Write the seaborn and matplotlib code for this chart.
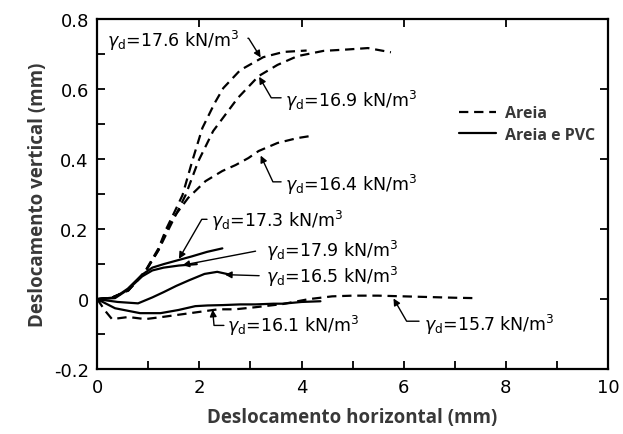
import matplotlib
matplotlib.use("Agg")
import matplotlib.pyplot as plt
from matplotlib.lines import Line2D
from matplotlib.ticker import MultipleLocator, FixedLocator, FuncFormatter
import seaborn as sns
import pandas as pd

# Sand only (dashed)
x_176 = [0, 0.3, 0.61, 0.94, 1.2, 1.35, 1.5, 1.67, 1.86, 2.06, 2.3, 2.47, 2.8, 3.25, 3.65, 4.1]
y_176 = [0, 0.005, 0.025, 0.08, 0.145, 0.2, 0.245, 0.297, 0.394, 0.489, 0.56, 0.603, 0.654, 0.691, 0.706, 0.71]

x_169 = [0, 0.3, 0.61, 0.94, 1.2, 1.4, 1.73, 1.98, 2.27, 2.75, 3.16, 3.53, 3.92, 4.43, 4.9, 5.3, 5.75]
y_169 = [0, 0.005, 0.025, 0.078, 0.14, 0.2, 0.297, 0.394, 0.48, 0.574, 0.637, 0.669, 0.694, 0.709, 0.713, 0.717, 0.705]

x_164 = [0, 0.3, 0.61, 0.94, 1.2, 1.35, 1.53, 1.78, 2.12, 2.45, 2.71, 2.96, 3.16, 3.53, 3.92, 4.18]
y_164 = [0, 0.005, 0.025, 0.078, 0.14, 0.195, 0.24, 0.289, 0.337, 0.366, 0.383, 0.403, 0.423, 0.446, 0.46, 0.466]

x_157 = [0, 0.16, 0.29, 0.61, 0.94, 1.27, 1.67, 2.12, 2.37, 2.7, 3.1, 3.63, 4.14, 4.6, 5.0, 5.5, 6.0, 6.5, 7.0, 7.37]
y_157 = [0, -0.034, -0.057, -0.051, -0.057, -0.051, -0.043, -0.034, -0.029, -0.029, -0.023, -0.014, 0.0, 0.008, 0.01, 0.01, 0.008, 0.006, 0.004, 0.003]

# Sand and PVC (solid)
x_173 = [0, 0.35, 0.6, 0.88, 1.08, 1.3, 1.55, 1.85, 2.15, 2.45]
y_173 = [0, 0.005, 0.03, 0.07, 0.09, 0.1, 0.11, 0.122, 0.135, 0.145]

x_179 = [0, 0.35, 0.6, 0.88, 1.08, 1.3, 1.6, 1.95]
y_179 = [0, 0.003, 0.027, 0.065, 0.082, 0.09, 0.096, 0.1]

x_165 = [0, 0.4, 0.8, 1.08, 1.3, 1.55, 1.8, 2.1, 2.35, 2.6]
y_165 = [0, -0.008, -0.012, 0.005, 0.02, 0.038, 0.054, 0.072, 0.078, 0.07]

x_161 = [0, 0.35, 0.84, 1.24, 1.59, 1.92, 2.16, 2.45, 2.8, 3.1, 3.45, 3.63, 4.0, 4.37]
y_161 = [0, -0.026, -0.04, -0.04, -0.031, -0.02, -0.018, -0.017, -0.015, -0.015, -0.013, -0.013, -0.008, -0.006]

x_ticks = [0, 2, 4, 6, 8, 10]
y_ticks = [-0.2, 0, 0.2, 0.4, 0.6, 0.8]

series = [
    ("17.6", x_176, y_176, "Areia"),
    ("16.9", x_169, y_169, "Areia"),
    ("16.4", x_164, y_164, "Areia"),
    ("15.7", x_157, y_157, "Areia"),
    ("17.3", x_173, y_173, "Areia e PVC"),
    ("17.9", x_179, y_179, "Areia e PVC"),
    ("16.5", x_165, y_165, "Areia e PVC"),
    ("16.1", x_161, y_161, "Areia e PVC"),
]

DASH = (0, (4.2, 2.6))

sns.set_theme(style="ticks")
plt.rcParams["font.family"] = ["DejaVu Sans"]
plt.rcParams["mathtext.fontset"] = "dejavusans"

fig = plt.figure(figsize=(6.23, 4.35), dpi=100)
ax = fig.add_axes([0.156, 0.149, 0.82, 0.805])

for name, xs, ys, group in series:
    df = pd.DataFrame({"x": xs, "y": ys})
    ls = DASH if group == "Areia" else "-"
    sns.lineplot(data=df, x="x", y="y", ax=ax, color="black", sort=False,
                 estimator=None, linewidth=1.6, linestyle=ls)

ax.set_xlim(0, 10)
ax.set_ylim(-0.2, 0.8)

# Ticks: all inward; minor ticks only bottom/left
ax.xaxis.set_major_locator(FixedLocator(x_ticks))
ax.yaxis.set_major_locator(FixedLocator(y_ticks))
ax.xaxis.set_minor_locator(MultipleLocator(1))
ax.yaxis.set_minor_locator(MultipleLocator(0.1))
ax.xaxis.set_major_formatter(FuncFormatter(lambda v, p: f"{v:g}"))
ax.yaxis.set_major_formatter(FuncFormatter(lambda v, p: "0" if abs(v) < 1e-9 else f"{v:.1f}"))
ax.tick_params(which="both", direction="in", length=6, width=1.3, colors="black",
               top=True, right=True, labelsize=13)
ax.tick_params(which="minor", top=False, right=False)
ax.tick_params(axis="x", pad=6)
ax.tick_params(axis="y", pad=6)
for s in ax.spines.values():
    s.set_linewidth(1.6)
    s.set_color("black")

lab_font = dict(family="Open Sans", weight="bold", size=13.5, color="#383838")
ax.set_xlabel("Deslocamento horizontal (mm)", labelpad=8, **lab_font)
ax.set_ylabel("Deslocamento vertical (mm)", labelpad=4, **lab_font)

# Density labels with leader arrows
arrow = dict(arrowstyle="-|>", color="black", lw=1.0, mutation_scale=10, shrinkA=0, shrinkB=0)
lbl = dict(fontsize=12.5, color="black", va="center")

def tag(value, tip, text_xy, start, conn):
    ax.text(text_xy[0], text_xy[1], r"$\gamma_\mathrm{d}$=" + value + r" kN/m$^3$", ha="left", **lbl)
    ax.annotate("", xy=tip, xytext=start,
                arrowprops=dict(arrow, connectionstyle=conn))

tag("17.6", (3.2, 0.69), (0.2, 0.74), (2.95, 0.745), "angle,angleA=0,angleB=-58,rad=0")
tag("16.9", (3.17, 0.635), (3.68, 0.57), (3.6, 0.575), "angle,angleA=180,angleB=-60,rad=0")
tag("16.4", (3.2, 0.41), (3.68, 0.33), (3.6, 0.335), "angle,angleA=180,angleB=-65,rad=0")
tag("17.3", (1.6, 0.115), (2.22, 0.226), (2.15, 0.228), "angle,angleA=180,angleB=60,rad=0")
tag("17.9", (1.67, 0.097), (3.3, 0.14), (3.1, 0.137), "arc3,rad=0")
tag("16.5", (2.5, 0.07), (3.3, 0.065), (3.17, 0.067), "arc3,rad=0")
tag("16.1", (2.26, -0.03), (2.55, -0.075), (2.48, -0.075), "angle,angleA=180,angleB=-85,rad=0")
tag("15.7", (5.8, 0.002), (6.4, -0.07), (6.3, -0.063), "angle,angleA=180,angleB=-60,rad=0")

handles = [Line2D([], [], color="black", lw=1.6, linestyle=DASH),
           Line2D([], [], color="black", lw=1.6, linestyle="-")]
leg = ax.legend(handles, ["Areia", "Areia e PVC"], loc="upper left",
                bbox_to_anchor=(0.68, 0.795), frameon=False, handlelength=2.3,
                handletextpad=0.6, labelspacing=0.35,
                prop=dict(family="Open Sans", weight="bold", size=11.5))
for t in leg.get_texts():
    t.set_color("#383838")

fig.savefig("out.png", dpi=100, facecolor="white")
